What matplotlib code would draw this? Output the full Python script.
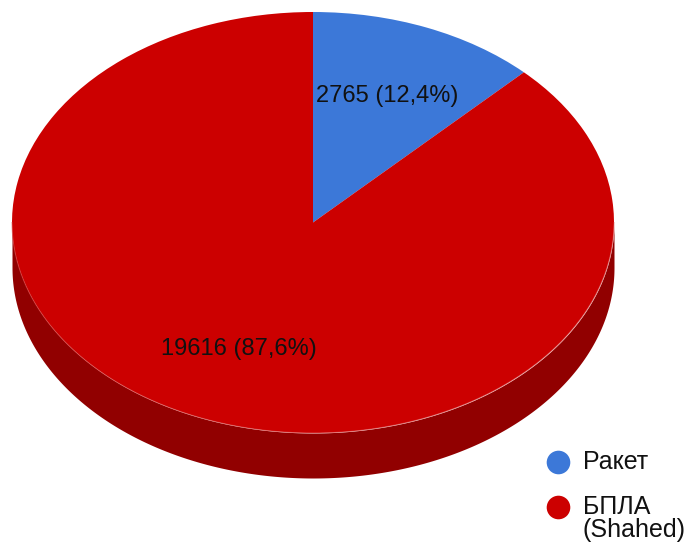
import numpy as np
import matplotlib
matplotlib.use("Agg")
import matplotlib.pyplot as plt

# attack counts by weapon type
categories = ['Ракет', 'БПЛА\n(Shahed)']
values = [2765, 19616]
colors = ['#3c78d8', '#cc0000']
side_color = '#910000'

total = sum(values)

def fmt(pct):
    n = int(round(pct * total / 100.0))
    return f"{n} ({pct:.1f}%)".replace('.', ',')

W, H = 691, 545
fig = plt.figure(figsize=(W / 100, H / 100), dpi=100)
ax = fig.add_axes([0, 0, 1, 1])

# pie ellipse in pixels: centre, radii, thickness
cx, cy, rx, ry = 313, 222.5, 301, 210.5
depth = 45 / ry

# side of the disc (only the front half shows)
t = np.linspace(np.pi, 2 * np.pi, 400)
ax.fill_between(np.cos(t), np.sin(t) - depth, np.sin(t), color=side_color,
                linewidth=0, zorder=1)

wedges, texts, autotexts = ax.pie(
    values, colors=colors, startangle=90, counterclock=False,
    autopct=fmt, pctdistance=0.65,
    wedgeprops=dict(linewidth=0),
    textprops=dict(fontsize=17, color='#111111', family='Liberation Sans'))
for w in wedges:
    w.set_zorder(2)
for a in autotexts:
    a.set_zorder(4)
ax.plot(np.cos(t), np.sin(t), color='#e05a5a', lw=0.7, alpha=0.6, zorder=3)

ax.set_aspect('auto')
ax.set_xlim((0 - cx) / rx, (W - cx) / rx)
ax.set_ylim((cy - H) / ry, cy / ry)
ax.axis('off')

# legend, in pixel coordinates
lg = fig.add_axes([0, 0, 1, 1], facecolor='none')
lg.set_xlim(0, W)
lg.set_ylim(H, 0)
lg.axis('off')
rows = [462, 507]
for y, lab, c in zip(rows, categories, colors):
    lg.plot(558, y, 'o', color=c, markersize=17, markeredgewidth=0)
    for k, line in enumerate(lab.split('\n')):
        lg.text(583, y + 23 * k, line, fontsize=18, color='#111111',
                family='Liberation Sans', va='center', ha='left')

fig.savefig('out.png', dpi=100)
